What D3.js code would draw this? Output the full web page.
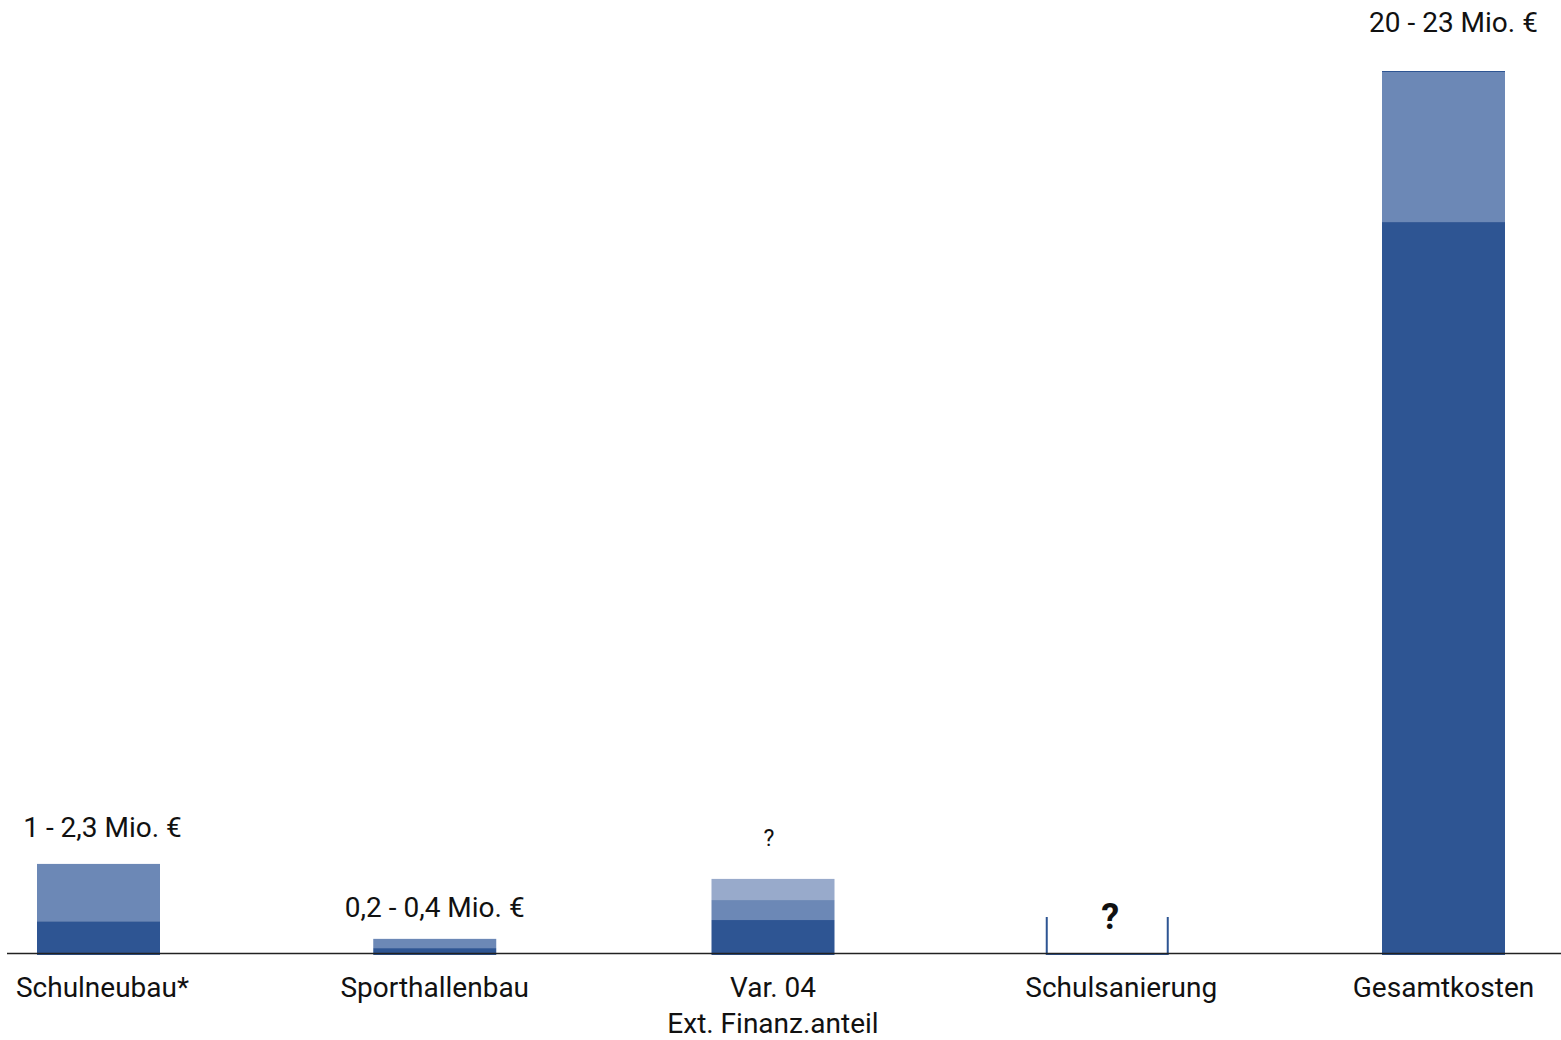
<!DOCTYPE html>
<html>
<head>
<meta charset="utf-8">
<script src="https://cdn.jsdelivr.net/npm/d3@7"></script>
<style>
  html, body { margin: 0; padding: 0; background: #fff; }
  svg { display: block; }
  text { font-family: Roboto, "Noto Sans", sans-serif; fill: #111; }
</style>
</head>
<body>
<svg id="chart" width="1561" height="1040"></svg>
<script>
// ---- data (Mio. €) ----
const categories = ["Schulneubau*", "Sporthallenbau", "Var. 04|Ext. Finanz.anteil", "Schulsanierung", "Gesamtkosten"];
const baseValues = [0.88, 0.18, 0.91, null, 19.07];   // dark segment
const midValues  = [1.49, 0.24, 0.52, null, 3.93];    // medium segment (stacked)
const topValues  = [0, 0, 0.55, null, 0];             // light segment (stacked)
const valueLabels = ["1 - 2,3 Mio. €", "0,2 - 0,4 Mio. €", "?", "?", "20 - 23 Mio. €"];

// ---- layout ----
const W = 1561, H = 1040;
const yBase = 955, yTop = 71;
const barW = 123;
const colors = { dark: "#2e5593", mid: "#6c88b6", light: "#98aacb" };
const labelGap = [27, 22, 33, 0, 39];
const labelDx = [4, 0, -2, 0, 10];
const catDx = [4, 0, 2, 14, 0];

const svg = d3.select("#chart");

const x = d3.scalePoint().domain(categories).range([98.5, 1443.5]);
const y = d3.scaleLinear().domain([0, 23]).range([yBase, yTop]);

const rows = categories.map((c, i) => ({
  cat: c, i,
  segs: baseValues[i] == null ? [] : [
    { y0: 0, y1: baseValues[i], col: colors.dark },
    { y0: baseValues[i], y1: baseValues[i] + midValues[i], col: colors.mid },
    { y0: baseValues[i] + midValues[i], y1: baseValues[i] + midValues[i] + topValues[i], col: colors.light }
  ].filter(s => s.y1 > s.y0),
  total: baseValues[i] == null ? null : baseValues[i] + midValues[i] + topValues[i]
}));

// bars
const g = svg.append("g");
rows.forEach(r => {
  g.selectAll(null).data(r.segs).enter().append("rect")
    .attr("x", x(r.cat) - barW / 2 + (r.i === 2 ? 2 : 0))
    .attr("width", barW)
    .attr("y", s => y(s.y1))
    .attr("height", s => y(s.y0) - y(s.y1))
    .attr("fill", s => s.col);
});

// thin top edge on total bar
const last = rows[4];
g.append("line")
  .attr("x1", x(last.cat) - barW / 2).attr("x2", x(last.cat) + barW / 2)
  .attr("y1", y(last.total) + 0.5).attr("y2", y(last.total) + 0.5)
  .attr("stroke", colors.dark).attr("stroke-width", 1.2);

// bracket for unknown Schulsanierung
const sx = x(categories[3]);
g.append("path")
  .attr("d", `M${sx - barW/2 + 1},${yBase - 38} V${yBase - 1} H${sx + barW/2 - 1} V${yBase - 38}`)
  .attr("fill", "none").attr("stroke", colors.dark).attr("stroke-width", 2);

// axis baseline
svg.append("line")
  .attr("x1", 7).attr("x2", W)
  .attr("y1", y(0) - 1.5).attr("y2", y(0) - 1.5)
  .attr("stroke", "#222").attr("stroke-width", 1.4);

// category labels
rows.forEach(r => {
  const lines = r.cat.split("|");
  const t = svg.append("text")
    .attr("text-anchor", "middle")
    .attr("font-size", 28)
    .attr("y", 997);
  lines.forEach((l, k) => {
    t.append("tspan").attr("x", x(r.cat) + catDx[r.i])
      .attr("dy", k === 0 ? 0 : 36).text(l);
  });
});

// value labels
rows.forEach(r => {
  if (r.i === 3) {
    svg.append("text")
      .attr("x", sx + 3).attr("y", 929)
      .attr("text-anchor", "middle")
      .attr("font-size", 36).attr("font-weight", "bold")
      .attr("font-family", "Liberation Sans, Arial, sans-serif")
      .text(valueLabels[3]);
    return;
  }
  svg.append("text")
    .attr("x", x(r.cat) + labelDx[r.i])
    .attr("y", y(r.total) - labelGap[r.i])
    .attr("text-anchor", "middle")
    .attr("font-size", r.i === 2 ? 23 : 28)
    .text(valueLabels[r.i]);
});
</script>
</body>
</html>
